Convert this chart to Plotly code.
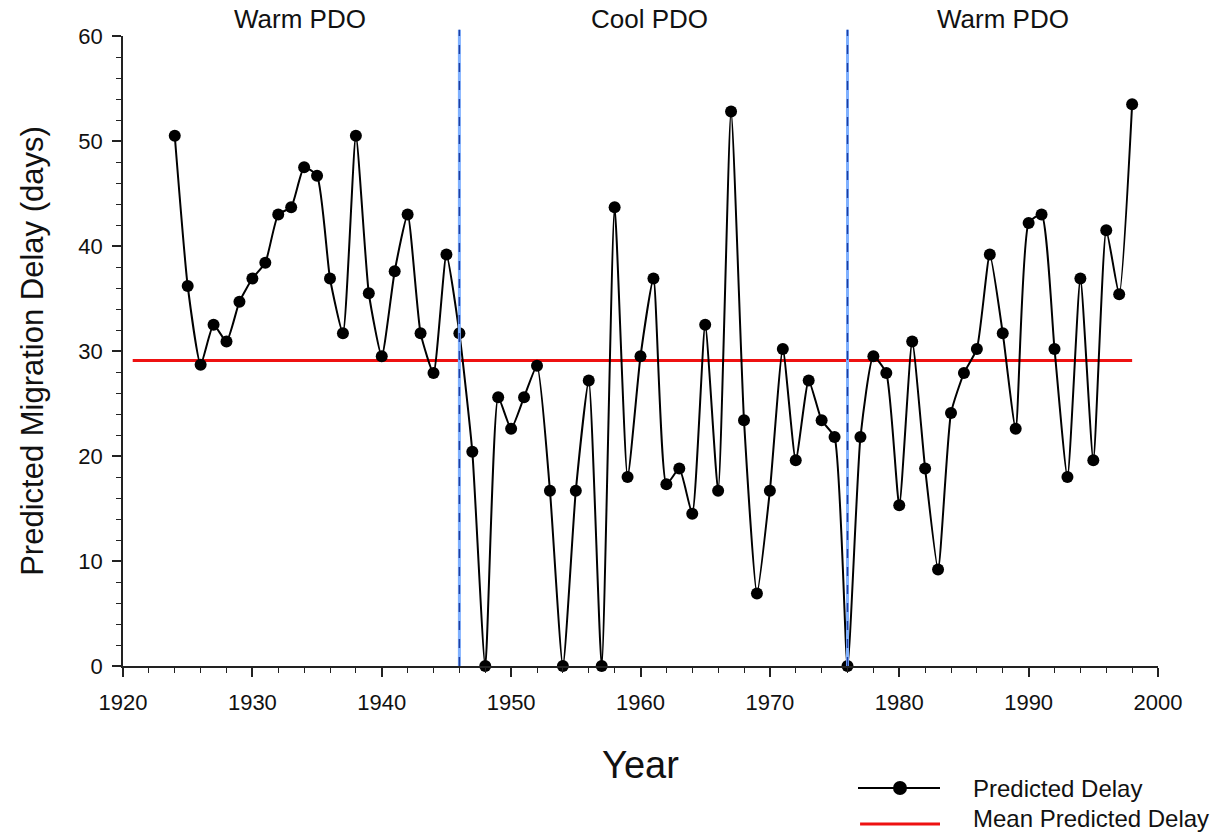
import plotly.graph_objects as go

years = list(range(1924, 1999))
delay = [50.5, 36.2, 28.7, 32.5, 30.9, 34.7, 36.9, 38.4, 43.0, 43.7,
         47.5, 46.7, 36.9, 31.7, 50.5, 35.5, 29.5, 37.6, 43.0, 31.7,
         27.9, 39.2, 31.7, 20.4, 0.0, 25.6, 22.6, 25.6, 28.6, 16.7,
         0.0, 16.7, 27.2, 0.0, 43.7, 18.0, 29.5, 36.9, 17.3, 18.8,
         14.5, 32.5, 16.7, 52.8, 23.4, 6.9, 16.7, 30.2, 19.6, 27.2,
         23.4, 21.8, 0.0, 21.8, 29.5, 27.9, 15.3, 30.9, 18.8, 9.2,
         24.1, 27.9, 30.2, 39.2, 31.7, 22.6, 42.2, 43.0, 30.2, 18.0,
         36.9, 19.6, 41.5, 35.4, 53.5]
mean_delay = 29.1
mean_span = [1920.75, 1998]
regime_breaks = [1946, 1976]
regime_labels = ["Warm PDO", "Cool PDO", "Warm PDO"]
regime_label_x = [1933.7, 1960.7, 1988.0]
legend_labels = ["Predicted Delay", "Mean Predicted Delay"]

FONT = "Arial, Liberation Sans, sans-serif"
TXT = "#111"

fig = go.Figure()

fig.add_trace(go.Scatter(
    x=mean_span, y=[mean_delay, mean_delay], mode="lines",
    line=dict(color="#ee1111", width=3),
    name=legend_labels[1], hoverinfo="skip", showlegend=False))

fig.add_trace(go.Scatter(
    x=years, y=delay, mode="lines+markers",
    line=dict(color="black", width=2, shape="spline", smoothing=0.5),
    marker=dict(color="black", size=12),
    name=legend_labels[0], showlegend=False,
    cliponaxis=False))

for b in regime_breaks:
    fig.add_shape(type="line", x0=b, x1=b, xref="x", yref="paper", y0=0, y1=1.01,
                  line=dict(color="#7fb0ff", width=3), layer="above")
    fig.add_shape(type="line", x0=b, x1=b, xref="x", yref="paper", y0=0, y1=1.01,
                  line=dict(color="#1f3fa0", width=1.5, dash="dash"), layer="above")

for lab, lx in zip(regime_labels, regime_label_x):
    fig.add_annotation(x=lx, y=1.0, xref="x", yref="paper", text=lab,
                       showarrow=False, yanchor="bottom", yshift=0,
                       font=dict(family=FONT, size=26, color=TXT))

# manual legend (paper coordinates of the plot area)
def px_to_paper(px, py):
    return (px - 123) / 1035, (666 - py) / 630

lx0, ly1 = px_to_paper(858, 788)
lx1, _ = px_to_paper(940, 788)
mx, _ = px_to_paper(900, 788)
tx, _ = px_to_paper(971, 788)
_, ly2 = px_to_paper(0, 824)
_, ty2 = px_to_paper(0, 818)

fig.add_shape(type="line", xref="paper", yref="paper", x0=lx0, x1=lx1, y0=ly1, y1=ly1,
              line=dict(color="black", width=2))
fig.add_shape(type="circle", xref="paper", yref="paper", xsizemode="pixel", ysizemode="pixel",
              xanchor=mx, yanchor=ly1, x0=-7, x1=7, y0=-7, y1=7,
              fillcolor="black", line=dict(color="black", width=0))
fig.add_shape(type="line", xref="paper", yref="paper", x0=lx0 + 0.002, x1=lx1, y0=ly2, y1=ly2,
              line=dict(color="#ee1111", width=3))
fig.add_annotation(x=tx, y=ly1, xref="paper", yref="paper", text=legend_labels[0],
                   showarrow=False, xanchor="left", yanchor="middle",
                   font=dict(family=FONT, size=24, color=TXT))
fig.add_annotation(x=tx, y=ty2, xref="paper", yref="paper", text=legend_labels[1],
                   showarrow=False, xanchor="left", yanchor="middle",
                   font=dict(family=FONT, size=24, color=TXT))

fig.update_layout(
    width=1219, height=832,
    margin=dict(l=123, r=61, t=36, b=166),
    paper_bgcolor="white", plot_bgcolor="white",
    font=dict(family=FONT, color=TXT),
    showlegend=False,
    xaxis=dict(range=[1920, 2000], tickvals=list(range(1920, 2001, 10)),
               showgrid=False, zeroline=False, showline=True,
               linecolor="#222", linewidth=1.5, ticks="outside", ticklen=9,
               tickwidth=1.5, tickcolor="#222", ticklabelstandoff=7,
               minor=dict(dtick=2, ticks="outside", ticklen=5, tickwidth=1.2, tickcolor="#222"),
               tickfont=dict(family=FONT, size=22, color=TXT),
               title=dict(text="Year", font=dict(family=FONT, size=38, color=TXT), standoff=37)),
    yaxis=dict(range=[0, 60], tickvals=list(range(0, 61, 10)),
               showgrid=False, zeroline=False, showline=True,
               linecolor="#222", linewidth=1.5, ticks="outside", ticklen=9,
               tickwidth=1.5, tickcolor="#222", ticklabelstandoff=5,
               minor=dict(dtick=2, ticks="outside", ticklen=5, tickwidth=1.2, tickcolor="#222"),
               tickfont=dict(family=FONT, size=22, color=TXT),
               title=dict(text="Predicted Migration Delay (days)",
                          font=dict(family=FONT, size=31, color=TXT), standoff=26)),
)

fig.write_html("out.html")
